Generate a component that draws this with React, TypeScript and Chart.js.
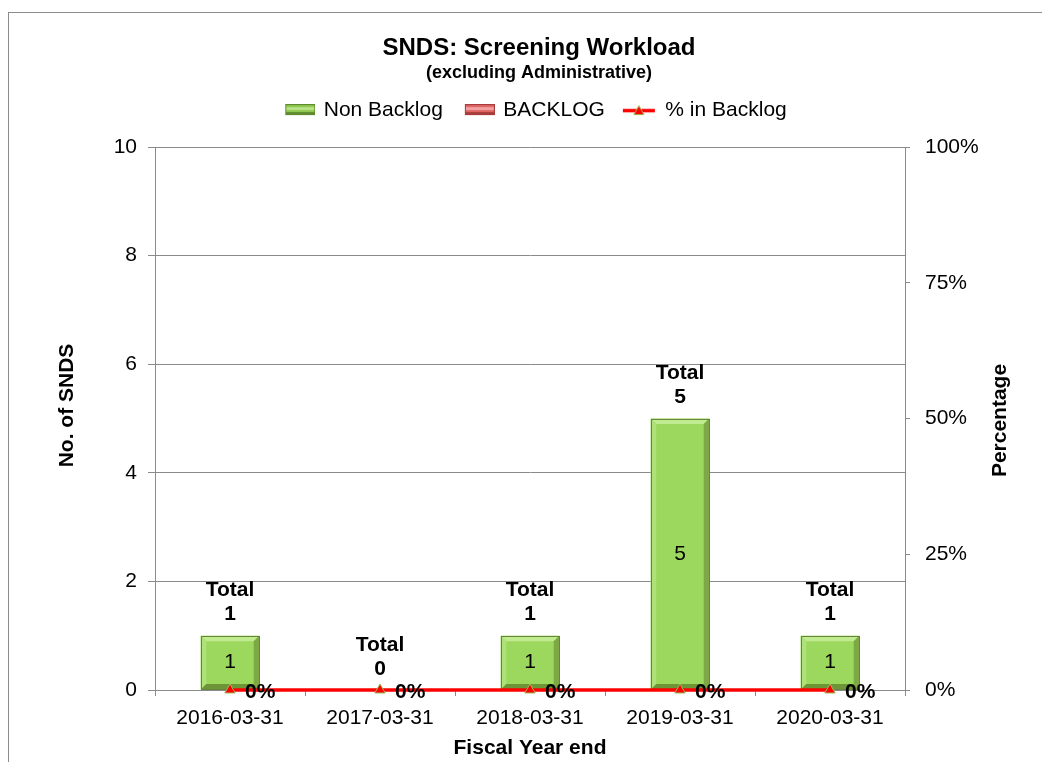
import React, { useEffect, useRef } from 'react';
import { Chart, registerables } from 'chart.js';

Chart.register(...registerables);

// ---- data ----
const categories = ['2016-03-31', '2017-03-31', '2018-03-31', '2019-03-31', '2020-03-31'];
const nonBacklog = [1, 0, 1, 5, 1];
const backlog = [0, 0, 0, 0, 0];
const pctInBacklog = [0, 0, 0, 0, 0];
const seriesNames = ['Non Backlog', 'BACKLOG', '% in Backlog'];
const yTicksMax = 10;
const yTicksStep = 2;
const y1TicksStep = 0.25;
const chartTitle = 'SNDS: Screening Workload';
const chartSubtitle = '(excluding Administrative)';
const xTitle = 'Fiscal Year end';
const yTitle = 'No. of SNDS';
const y1Title = 'Percentage';

const FONT = "'Liberation Sans', Arial, Helvetica, sans-serif";
const W = 1042;
const H = 754;
const GRID = '#8a8a8a';

function barSwatch(main: string, light: string, dark: string) {
  const c = document.createElement('canvas');
  c.width = 44;
  c.height = 12;
  const g = c.getContext('2d')!;
  const x0 = 14, w = 30, y0 = 0, h = 11;
  g.fillStyle = main;
  g.fillRect(x0, y0, w, h);
  g.fillStyle = light;
  g.fillRect(x0 + 1, y0 + 3, w - 2, 3);
  g.fillStyle = dark;
  g.fillRect(x0, y0 + h - 3, w, 3);
  g.strokeStyle = dark;
  g.lineWidth = 1;
  g.strokeRect(x0 + 0.5, y0 + 0.5, w - 1, h - 1);
  return c;
}

function lineSwatch() {
  const c = document.createElement('canvas');
  c.width = 44;
  c.height = 12;
  const g = c.getContext('2d')!;
  g.strokeStyle = '#ff0000';
  g.lineWidth = 3.5;
  g.beginPath();
  g.moveTo(10, 6.5);
  g.lineTo(42, 6.5);
  g.stroke();
  g.beginPath();
  g.moveTo(26, 1.5);
  g.lineTo(31, 10.5);
  g.lineTo(21, 10.5);
  g.closePath();
  g.fillStyle = '#ff0000';
  g.fill();
  g.strokeStyle = '#9bbb59';
  g.lineWidth = 1;
  g.stroke();
  return c;
}

const borderPlugin = {
  id: 'frame',
  beforeDraw(chart: any) {
    const ctx = chart.ctx;
    ctx.save();
    ctx.strokeStyle = '#8c8c8c';
    ctx.lineWidth = 1;
    ctx.strokeRect(0.5, 4.5, chart.width + 20, chart.height + 20);
    ctx.restore();
  },
};

const legendHeightPlugin = {
  id: 'legendHeight',
  beforeLayout(chart: any) {
    const lg = chart.legend;
    if (lg && !lg.__patched) {
      const orig = lg.fit;
      lg.fit = function () {
        orig.call(this);
        this.height = 57.4;
      };
      lg.__patched = true;
    }
  },
};

const bevelPlugin = {
  id: 'bevel',
  afterDatasetDraw(chart: any, args: any) {
    const ds = chart.data.datasets[args.index];
    if (!ds.bevel) return;
    const pal = ds.bevel;
    const ctx = chart.ctx;
    args.meta.data.forEach((el: any) => {
      const { x, y, base, width } = el.getProps(['x', 'y', 'base', 'width'], true);
      const l = x - width / 2;
      const r = x + width / 2;
      const t = Math.min(y, base);
      const b = Math.max(y, base);
      if (b - t < 1) return;
      const s = Math.min(5.5, (b - t) / 2);
      ctx.save();
      const poly = (pts: number[][], col: string) => {
        ctx.beginPath();
        ctx.moveTo(pts[0][0], pts[0][1]);
        for (let k = 1; k < pts.length; k++) ctx.lineTo(pts[k][0], pts[k][1]);
        ctx.closePath();
        ctx.fillStyle = col;
        ctx.fill();
      };
      poly([[l, t], [r, t], [r - s, t + s], [l + s, t + s]], pal.top);
      poly([[l, t], [l + s, t + s], [l + s, b - s], [l, b]], pal.left);
      poly([[r, t], [r - s, t + s], [r - s, b - s], [r, b]], pal.right);
      poly([[l, b], [l + s, b - s], [r - s, b - s], [r, b]], pal.bottom);
      ctx.strokeStyle = pal.edge;
      ctx.lineWidth = 1;
      ctx.strokeRect(Math.round(l) + 0.5, Math.round(t) + 0.5, Math.round(r - l) - 1, Math.round(b - t) - 1);
      ctx.restore();
    });
  },
};

const labelsPlugin = {
  id: 'valueLabels',
  afterDatasetsDraw(chart: any) {
    const ctx = chart.ctx;
    const m0 = chart.getDatasetMeta(0);
    const m1 = chart.getDatasetMeta(1);
    const m2 = chart.getDatasetMeta(2);
    ctx.save();
    ctx.fillStyle = '#000';
    ctx.textBaseline = 'middle';
    categories.forEach((_c, i) => {
      const e0 = m0.data[i];
      const e1 = m1.data[i];
      ctx.textAlign = 'center';
      ctx.font = `21px ${FONT}`;
      if (nonBacklog[i] > 0) ctx.fillText(String(nonBacklog[i]), e0.x, (e0.y + e0.base) / 2);
      if (backlog[i] > 0) ctx.fillText(String(backlog[i]), e1.x, (e1.y + e1.base) / 2);
      const top = Math.min(e0.y, e1.y, e0.base);
      const total = nonBacklog[i] + backlog[i];
      ctx.font = `bold 21px ${FONT}`;
      ctx.fillText('Total', e0.x, top - 45);
      ctx.fillText(String(total), e0.x, top - 21);
      const p = m2.data[i];
      ctx.textAlign = 'left';
      ctx.fillText(Math.round(pctInBacklog[i] * 100) + '%', p.x + 15, p.y + 2);
    });
    ctx.restore();
  },
};

const axisTitlePlugin = {
  id: 'axisTitles',
  afterDraw(chart: any) {
    const ctx = chart.ctx;
    const ca = chart.chartArea;
    const cy = (ca.top + ca.bottom) / 2;
    ctx.save();
    ctx.fillStyle = '#000';
    ctx.font = `bold 21px ${FONT}`;
    ctx.textAlign = 'center';
    ctx.textBaseline = 'middle';
    ctx.translate(59, cy - 13);
    ctx.rotate(-Math.PI / 2);
    ctx.fillText(yTitle, 0, 0);
    ctx.restore();
    ctx.save();
    ctx.fillStyle = '#000';
    ctx.font = `bold 21px ${FONT}`;
    ctx.textAlign = 'center';
    ctx.textBaseline = 'middle';
    ctx.translate(992, cy + 2);
    ctx.rotate(-Math.PI / 2);
    ctx.fillText(y1Title, 0, 0);
    ctx.restore();
  },
};

export default function App() {
  const ref = useRef<HTMLCanvasElement>(null);

  useEffect(() => {
    if (!ref.current) return;
    const icons = [
      barSwatch('#8fc850', '#b6e285', '#5f8a2e'),
      barSwatch('#e06666', '#f2a0a0', '#a83c3a'),
      lineSwatch(),
    ];
    const chart = new Chart(ref.current, {
      type: 'bar',
      data: {
        labels: categories,
        datasets: [
          {
            label: seriesNames[0],
            data: nonBacklog,
            backgroundColor: '#9cd75e',
            borderWidth: 0,
            yAxisID: 'y',
            stack: 's',
            order: 1,
            barPercentage: 0.39,
            categoryPercentage: 1,
            bevel: { top: '#c0eb90', left: '#afe17a', right: '#7ea845', bottom: '#6e9438', edge: '#65853a' },
          } as any,
          {
            label: seriesNames[1],
            data: backlog,
            backgroundColor: '#e46c6c',
            borderWidth: 0,
            yAxisID: 'y',
            stack: 's',
            order: 1,
            barPercentage: 0.39,
            categoryPercentage: 1,
            bevel: { top: '#f2a3a3', left: '#ec8a8a', right: '#b84a48', bottom: '#a33c3a', edge: '#9a3a38' },
          } as any,
          {
            type: 'line',
            label: seriesNames[2],
            data: pctInBacklog,
            yAxisID: 'y1',
            order: 0,
            clip: false,
            borderColor: '#ff0000',
            borderWidth: 3.5,
            pointStyle: 'triangle',
            pointRadius: 6,
            pointBackgroundColor: '#ff0000',
            pointBorderColor: '#9bbb59',
            pointBorderWidth: 1,
            tension: 0,
          } as any,
        ],
      },
      options: {
        responsive: false,
        animation: false,
        events: [],
        layout: { padding: { left: 20, right: 0, top: 0, bottom: 0 } },
        font: { family: FONT },
        plugins: {
          title: {
            display: true,
            text: chartTitle,
            color: '#000',
            font: { family: FONT, size: 24, weight: 'bold', lineHeight: 1 },
            padding: { top: 28, bottom: 0 },
          },
          subtitle: {
            display: true,
            text: chartSubtitle,
            color: '#000',
            font: { family: FONT, size: 18, weight: 'bold', lineHeight: 1.2 },
            padding: { top: 2, bottom: 6 },
          },
          legend: {
            display: true,
            position: 'top',
            fullSize: false,
            labels: {
              usePointStyle: true,
              pointStyleWidth: 40,
              boxHeight: 12,
              padding: 10,
              color: '#000',
              font: { family: FONT, size: 21 },
              generateLabels: (ch: any) =>
                ch.data.datasets.map((ds: any, i: number) => ({
                  text: ds.label,
                  datasetIndex: i,
                  hidden: false,
                  pointStyle: icons[i],
                  fillStyle: 'rgba(0,0,0,0)',
                  strokeStyle: 'rgba(0,0,0,0)',
                  lineWidth: 0,
                  fontColor: '#000',
                })),
            },
          },
          tooltip: { enabled: false },
        },
        scales: {
          x: {
            type: 'category',
            stacked: true,
            offset: true,
            grid: {
              offset: true,
              drawOnChartArea: false,
              drawTicks: true,
              tickLength: 6,
              color: GRID,
            },
            border: { display: true, color: GRID, width: 1 },
            ticks: {
              color: '#000',
              font: { family: FONT, size: 21 },
              padding: 10,
              maxRotation: 0,
              autoSkip: false,
            },
            title: {
              display: true,
              text: xTitle,
              color: '#000',
              font: { family: FONT, size: 21, weight: 'bold', lineHeight: 1.2 },
              padding: { top: 0, bottom: 1.4 },
            },
            afterFit: (s: any) => {
              s.height = 72;
            },
          },
          y: {
            type: 'linear',
            position: 'left',
            stacked: true,
            min: 0,
            max: yTicksMax,
            grid: { color: GRID, tickLength: 7, drawTicks: true },
            border: { display: true, color: GRID, width: 1 },
            ticks: {
              stepSize: yTicksStep,
              color: '#000',
              font: { family: FONT, size: 21 },
              padding: 11,
            },
            afterFit: (s: any) => {
              s.width = 127;
            },
          },
          y1: {
            type: 'linear',
            position: 'right',
            min: 0,
            max: 1,
            grid: { drawOnChartArea: false, tickLength: 5, color: GRID },
            border: { display: true, color: GRID, width: 1 },
            ticks: {
              stepSize: y1TicksStep,
              color: '#000',
              font: { family: FONT, size: 21 },
              padding: 15,
              callback: (v: any) => Math.round(Number(v) * 100) + '%',
            },
            afterFit: (s: any) => {
              s.width = 145;
            },
          },
        },
      } as any,
      plugins: [borderPlugin, legendHeightPlugin, bevelPlugin, labelsPlugin, axisTitlePlugin],
    });
    return () => chart.destroy();
  }, []);

  return (
    <div style={{ width: W, height: H }}>
      <canvas ref={ref} width={W} height={H} style={{ display: 'block', width: W, height: H }} />
    </div>
  );
}
